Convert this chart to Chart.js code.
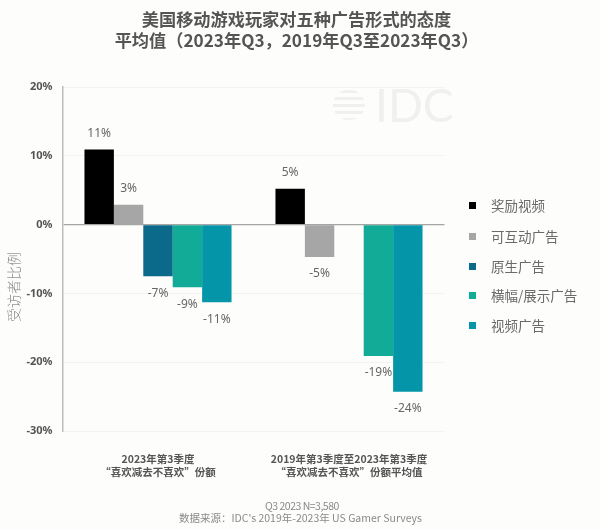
<!DOCTYPE html>
<html>
<head>
<meta charset="utf-8">
<script src="https://cdn.jsdelivr.net/npm/chart.js@4"></script>
<style>
  html, body { margin: 0; padding: 0; background: #fdfdfb; }
  body { width: 600px; height: 530px; position: relative; overflow: hidden; font-family: "Noto Sans CJK SC", "Noto Sans", sans-serif; }
  canvas { position: absolute; left: 0; top: 0; }
  .title { position: absolute; left: 0; width: 593px; text-align: center; font-size: 17.2px; font-weight: 700; color: #555; line-height: 21px; top: 8px; white-space: nowrap; }
  .y-title { position: absolute; left: -22px; top: 277px; width: 70px; text-align: center; font-size: 14px; font-weight: 300; color: #8a8a8a; transform: rotate(-90deg); white-space: nowrap; }
  .legend-item { position: absolute; left: 468px; font-size: 13.5px; line-height: 16px; color: #6a6a6a; white-space: nowrap; }
  .legend-item i { position: absolute; left: 1px; top: 5px; width: 7px; height: 7px; }
  .legend-item span { position: absolute; left: 23px; top: 0; }
  .footer { position: absolute; font-size: 10.5px; color: #8a8a8a; white-space: nowrap; line-height: 13px; }
  .mark { position: absolute; left: 375px; top: 80px; font-size: 46px; font-weight: 400; color: #f0f0ee; line-height: 50px; font-family: "Lato", sans-serif; }
  .mark-lines { position: absolute; left: 333px; top: 90px; width: 32px; height: 30px; background: repeating-linear-gradient(#f0f0ee 0 3px, transparent 3px 7px); border-radius: 15px; }
</style>
</head>
<body>
<canvas id="chart" width="600" height="530"></canvas>
<div class="mark-lines"></div>
<div class="mark">IDC</div>
<div class="title">美国移动游戏玩家对五种广告形式的态度<br>平均值（2023年Q3，2019年Q3至2023年Q3）</div>
<div class="y-title">受访者比例</div>
<div id="legend"></div>
<div class="footer" style="left:265px;top:499px;letter-spacing:-0.5px;">Q3 2023 N=3,580</div>
<div class="footer" style="left:179px;top:511px;">数据来源：IDC's 2019年-2023年 US Gamer Surveys</div>

<script>
const categories = [
  ["2023年第3季度", "“喜欢减去不喜欢”份额"],
  ["2019年第3季度至2023年第3季度", "“喜欢减去不喜欢”份额平均值"],
];
const seriesNames = ["奖励视频", "可互动广告", "原生广告", "横幅/展示广告", "视频广告"];
const seriesColors = ["#000000", "#a6a6a6", "#0b6a8a", "#11ab97", "#0495a8"];
const rewardedVideo = [10.9, 5.2];
const interactive = [2.9, -4.7];
const native = [-7.5, null];
const banner = [-9.1, -19.1];
const videoAds = [-11.3, -24.3];
const rewardedLabels = ["11%", "5%"];
const interactiveLabels = ["3%", "-5%"];
const nativeLabels = ["-7%", ""];
const bannerLabels = ["-9%", "-19%"];
const videoLabels = ["-11%", "-24%"];
const legendTops = [197, 228, 258, 287, 317];

const seriesValues = [rewardedVideo, interactive, native, banner, videoAds];
const seriesLabels = [rewardedLabels, interactiveLabels, nativeLabels, bannerLabels, videoLabels];

const legendBox = document.getElementById("legend");
seriesNames.forEach((name, i) => {
  const item = document.createElement("div");
  item.className = "legend-item";
  item.style.top = legendTops[i] + "px";
  item.innerHTML = `<i style="background:${seriesColors[i]}"></i><span>${name}</span>`;
  legendBox.appendChild(item);
});

// value labels sit a fixed distance off the bar end
const barLabels = {
  id: "barLabels",
  afterDatasetsDraw(chart) {
    const ctx = chart.ctx;
    ctx.save();
    ctx.font = '12px "Noto Sans", sans-serif';
    ctx.fillStyle = "#666";
    ctx.textAlign = "center";
    ctx.textBaseline = "middle";
    chart.data.datasets.forEach((ds, i) => {
      chart.getDatasetMeta(i).data.forEach((bar, j) => {
        if (ds.data[j] === null) return;
        const offset = ds.data[j] >= 0 ? -16 : 17;
        ctx.fillText(seriesLabels[i][j], bar.x, bar.y + offset);
      });
    });
    ctx.restore();
  },
};

new Chart(document.getElementById("chart"), {
  type: "bar",
  data: {
    labels: categories,
    datasets: seriesNames.map((name, i) => ({
      label: name,
      data: seriesValues[i],
      backgroundColor: seriesColors[i],
      categoryPercentage: 0.77,
      barPercentage: 1,
    })),
  },
  options: {
    responsive: false,
    animation: false,
    layout: { padding: { left: 0, top: 87, right: 155.5, bottom: 0 } },
    plugins: { legend: { display: false }, title: { display: false }, tooltip: { enabled: false } },
    scales: {
      x: {
        afterFit: (scale) => { scale.height = 99; },
        grid: { display: false },
        border: { display: false },
        ticks: {
          color: "#555",
          padding: 13,
          maxRotation: 0,
          autoSkip: false,
          font: { family: '"Noto Sans CJK SC", sans-serif', size: 10.5, weight: "700", lineHeight: 1.25 },
        },
      },
      y: {
        min: -30,
        max: 20,
        afterFit: (scale) => { scale.width = 62.5; },
        border: { display: true, color: "#bdbdbb", width: 1.5 },
        grid: {
          drawTicks: false,
          color: (c) => (c.tick.value === 0 ? "#a5a5a3" : "#f3f3f1"),
          lineWidth: (c) => (c.tick.value === 0 ? 1.2 : 1),
        },
        ticks: {
          stepSize: 10,
          color: "#555",
          padding: 10,
          font: { family: '"Noto Sans", sans-serif', size: 11, weight: "700" },
          callback: (v) => v + "%",
        },
      },
    },
  },
  plugins: [barLabels],
});
</script>
</body>
</html>
